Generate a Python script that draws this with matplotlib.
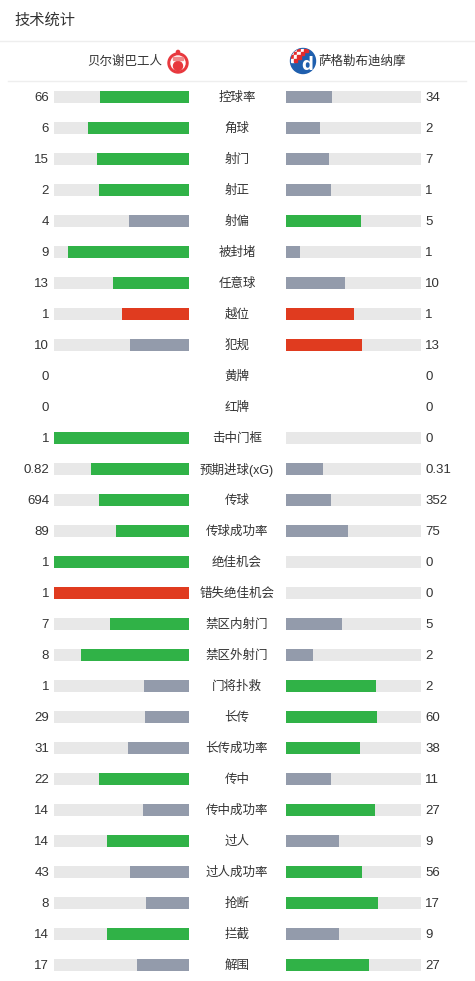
"""Technische Statistik Beer Sheva vs Dinamo Zagreb als PNG."""

import matplotlib.pyplot as plt
from matplotlib.patches import Circle, Rectangle

plt.rcParams["font.family"] = ["Liberation Sans", "Noto Sans CJK SC", "DejaVu Sans"]

HOME = "贝尔谢巴工人"
AWAY = "萨格勒布迪纳摩"

STATS = ["控球率", "角球", "射门", "射正", "射偏", "被封堵", "任意球", "越位", "犯规",
         "黄牌", "红牌", "击中门框", "预期进球(xG)", "传球", "传球成功率", "绝佳机会",
         "错失绝佳机会", "禁区内射门", "禁区外射门", "门将扑救", "长传", "长传成功率",
         "传中", "传中成功率", "过人", "过人成功率", "抢断", "拦截", "解围"]
HOME_VALS = [66, 6, 15, 2, 4, 9, 13, 1, 10, 0, 0, 1, 0.82, 694, 89, 1, 1, 7, 8, 1,
             29, 31, 22, 14, 14, 43, 8, 14, 17]
AWAY_VALS = [34, 2, 7, 1, 5, 1, 10, 1, 13, 0, 0, 0, 0.31, 352, 75, 0, 0, 5, 2, 2,
             60, 38, 11, 27, 9, 56, 17, 9, 27]
# hoeher = schlechter
NEGATIVE = {"越位", "犯规", "错失绝佳机会"}

GREEN = "#30b247"
GREY = "#939bab"
RED = "#e03b1f"
TRACK = "#e8e8e8"
TEXT = "#333333"

fig = plt.figure(figsize=(4.75, 9.81), dpi=100)
ax = fig.add_axes([0, 0, 1, 1])
ax.set_xlim(0, 475)
ax.set_ylim(981, 0)
ax.axis("off")

# Kopf
ax.text(14, 20, "技术统计", fontsize=11, color=TEXT, va="center", ha="left")
ax.plot([0, 475], [41, 41], color="#eeeeee", lw=1)
ax.plot([8, 466], [81, 81], color="#eeeeee", lw=1)
ax.text(162, 62, HOME, fontsize=9, color=TEXT, va="center", ha="right")
ax.text(318, 62, AWAY, fontsize=9, color=TEXT, va="center", ha="left")

# Logo links (rot)
ax.add_patch(Circle((178, 63), 10, color="#e8383d"))
ax.add_patch(Circle((178, 63), 7, color="white"))
ax.add_patch(Circle((178, 66), 4.5, color="#e8383d"))
ax.add_patch(Rectangle((173, 57), 10, 3, color="#f08a8a"))
ax.add_patch(Circle((178, 52), 1.6, color="#e8383d"))
# Logo rechts (blau mit Schachbrett)
ax.add_patch(Circle((303, 61), 12.5, color="#1f5fae"))
clip = Circle((303, 61), 12.5, transform=ax.transData)
for i in range(5):
    for j in range(4):
        if i + j > 4:
            continue
        c = "#e32b2b" if (i + j) % 2 == 0 else "white"
        sq = Rectangle((290.5 + i * 3.4, 48.5 + j * 3.4), 3.4, 3.4, color=c)
        ax.add_patch(sq)
        sq.set_clip_path(clip)
ax.text(307, 65, "d", fontsize=12, color="white", fontweight="bold",
        ha="center", va="center", family="DejaVu Sans")

# Balken
L0, R0, W, H = 54, 286, 135, 12
rows = [97 + 31 * i for i in range(len(STATS))]


def fmt(v):
    return f"{v:g}"


for y, name, a, b in zip(rows, STATS, HOME_VALS, AWAY_VALS):
    ax.text(237, y + 1, name, fontsize=9, color=TEXT, ha="center", va="center")
    ax.text(49, y + 1, fmt(a), fontsize=9.5, color=TEXT, ha="right", va="center")
    ax.text(425, y + 1, fmt(b), fontsize=9.5, color=TEXT, ha="left", va="center")
    if a + b == 0:
        continue
    ax.barh(y, W, left=L0, height=H, color=TRACK)
    ax.barh(y, W, left=R0, height=H, color=TRACK)
    if name in NEGATIVE:
        ca = RED if a >= b else GREY
        cb = RED if b >= a else GREY
    else:
        ca = GREEN if a > b else GREY
        cb = GREEN if b > a else GREY
    wa = W * a / (a + b)
    wb = W * b / (a + b)
    if a > 0:
        ax.barh(y, wa, left=L0 + W - wa, height=H, color=ca)
    if b > 0:
        ax.barh(y, wb, left=R0, height=H, color=cb)

fig.savefig("out.png", dpi=100, facecolor="white")
